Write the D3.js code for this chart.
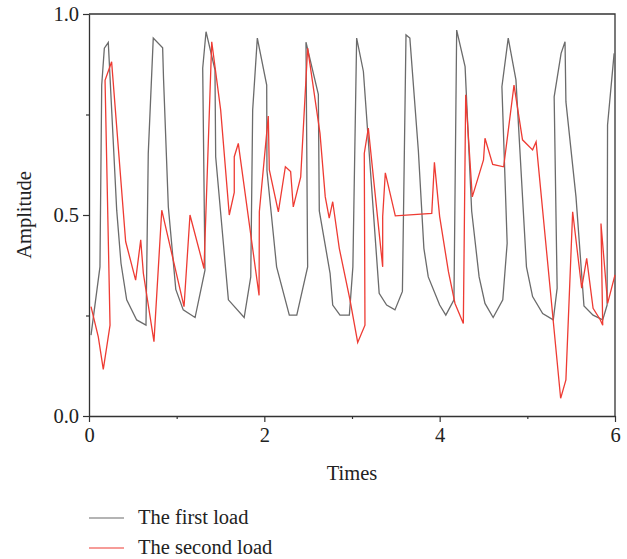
<!DOCTYPE html>
<html>
<head>
<meta charset="utf-8">
<script src="https://cdn.jsdelivr.net/npm/d3@7"></script>
<style>
  body { margin: 0; background: #fff; }
  svg text { font-family: "Liberation Serif", "DejaVu Serif", serif; fill: #222; }
</style>
</head>
<body>
<svg id="chart" width="627" height="559"></svg>
<script>
// first load (grey)
var firstTime = [0.023, 0.125, 0.145, 0.175, 0.22, 0.316, 0.365, 0.43, 0.544, 0.65, 0.676, 0.733, 0.84, 0.85, 0.905, 0.99, 1.075, 1.21, 1.323, 1.297, 1.335, 1.437, 1.445, 1.59, 1.77, 1.845, 1.867, 1.92, 2.027, 2.03, 2.14, 2.285, 2.37, 2.494, 2.475, 2.616, 2.627, 2.75, 2.78, 2.863, 2.97, 3.01, 3.053, 3.13, 3.31, 3.395, 3.49, 3.575, 3.616, 3.66, 3.757, 3.82, 3.87, 4.0, 4.07, 4.163, 4.194, 4.29, 4.365, 4.45, 4.517, 4.61, 4.72, 4.77, 4.71, 4.782, 4.87, 4.99, 5.06, 5.175, 5.296, 5.34, 5.306, 5.385, 5.43, 5.44, 5.555, 5.646, 5.75, 5.86, 5.91, 5.915, 5.99];
var firstAmp = [0.201, 0.371, 0.823, 0.915, 0.929, 0.512, 0.38, 0.289, 0.239, 0.226, 0.653, 0.94, 0.916, 0.84, 0.52, 0.315, 0.264, 0.245, 0.363, 0.865, 0.956, 0.861, 0.645, 0.289, 0.245, 0.346, 0.761, 0.94, 0.823, 0.61, 0.371, 0.251, 0.251, 0.371, 0.93, 0.80, 0.51, 0.355, 0.276, 0.251, 0.251, 0.371, 0.94, 0.857, 0.305, 0.276, 0.264, 0.31, 0.948, 0.94, 0.66, 0.417, 0.346, 0.276, 0.251, 0.289, 0.96, 0.869, 0.51, 0.346, 0.28, 0.245, 0.289, 0.43, 0.819, 0.94, 0.836, 0.371, 0.297, 0.255, 0.239, 0.318, 0.794, 0.902, 0.931, 0.782, 0.545, 0.274, 0.251, 0.239, 0.276, 0.724, 0.902];

// second load (red)
var secondTime = [0.023, 0.106, 0.163, 0.24, 0.183, 0.258, 0.418, 0.532, 0.59, 0.62, 0.741, 0.83, 1.084, 1.152, 1.312, 1.40, 1.502, 1.60, 1.657, 1.657, 1.703, 1.94, 1.943, 2.045, 2.057, 2.16, 2.24, 2.30, 2.33, 2.415, 2.494, 2.635, 2.695, 2.74, 2.78, 2.855, 2.977, 3.065, 3.148, 3.14, 3.186, 3.35, 3.35, 3.38, 3.494, 3.91, 3.94, 4.0, 4.10, 4.175, 4.27, 4.297, 4.372, 4.50, 4.517, 4.605, 4.73, 4.848, 4.945, 5.06, 5.10, 5.38, 5.44, 5.517, 5.62, 5.677, 5.75, 5.83, 5.86, 5.84, 5.916, 6.0];
var secondAmp = [0.272, 0.197, 0.116, 0.226, 0.835, 0.881, 0.434, 0.338, 0.438, 0.355, 0.185, 0.512, 0.272, 0.5, 0.367, 0.931, 0.761, 0.50, 0.556, 0.645, 0.678, 0.30, 0.508, 0.746, 0.612, 0.508, 0.62, 0.608, 0.52, 0.595, 0.915, 0.703, 0.545, 0.492, 0.533, 0.417, 0.289, 0.183, 0.226, 0.653, 0.716, 0.371, 0.496, 0.605, 0.498, 0.504, 0.631, 0.496, 0.359, 0.28, 0.23, 0.799, 0.545, 0.637, 0.691, 0.626, 0.62, 0.823, 0.687, 0.662, 0.682, 0.044, 0.09, 0.508, 0.318, 0.392, 0.268, 0.24, 0.226, 0.479, 0.28, 0.351];

var xTicks = [0, 2, 4, 6];
var xMinor = [1, 3, 5];
var yTicks = [0, 0.5, 1];
var yMinor = [0.25, 0.75];
var seriesNames = ["The first load", "The second load"];
var seriesColors = ["#6b6b6b", "#ee3b33"];

var padL = 89, padR = 615, padT = 14, padB = 416;
var fontSize = 20.5;
var svg = d3.select("#chart");

var x = d3.scaleLinear().domain([0, 6]).range([padL, padR]);
var y = d3.scaleLinear().domain([0, 1]).range([padB, padT]);

// frame (top + right)
svg.append("path")
    .attr("d", "M" + padL + "," + padT + "H" + padR + "V" + padB)
    .attr("fill", "none").attr("stroke", "#333").attr("stroke-width", 1.3);

function styleAxis(g) {
    g.select(".domain").attr("stroke", "#333").attr("stroke-width", 1.3);
    g.selectAll(".tick line").attr("stroke", "#333").attr("stroke-width", 1.2);
    g.selectAll(".tick text").attr("font-size", fontSize).attr("fill", "#222")
        .attr("font-family", "Liberation Serif, serif");
}

var xAxis = svg.append("g").attr("transform", "translate(0," + padB + ")")
    .call(d3.axisBottom(x).tickValues(xTicks).tickFormat(d3.format("d")).tickSize(6).tickPadding(5).tickSizeOuter(0));
styleAxis(xAxis);
svg.append("g").attr("transform", "translate(0," + padB + ")")
    .call(d3.axisBottom(x).tickValues(xMinor).tickFormat("").tickSize(3).tickSizeOuter(0))
    .call(function(g) { g.select(".domain").remove(); g.selectAll("line").attr("stroke", "#333").attr("stroke-width", 1.2); });

var yAxis = svg.append("g").attr("transform", "translate(" + padL + ",0)")
    .call(d3.axisLeft(y).tickValues(yTicks).tickFormat(d3.format(".1f")).tickSize(6).tickPadding(4).tickSizeOuter(0));
styleAxis(yAxis);
svg.append("g").attr("transform", "translate(" + padL + ",0)")
    .call(d3.axisLeft(y).tickValues(yMinor).tickFormat("").tickSize(3).tickSizeOuter(0))
    .call(function(g) { g.select(".domain").remove(); g.selectAll("line").attr("stroke", "#333").attr("stroke-width", 1.2); });

svg.append("text")
    .attr("x", (padL + padR) / 2).attr("y", 480)
    .attr("text-anchor", "middle").attr("font-size", fontSize)
    .text("Times");

svg.append("text")
    .attr("transform", "translate(31," + ((padT + padB) / 2) + ") rotate(-90)")
    .attr("text-anchor", "middle").attr("font-size", fontSize)
    .text("Amplitude");

var line = d3.line()
    .x(function(d) { return x(d[0]); })
    .y(function(d) { return y(d[1]); });

var series = [
    d3.zip(firstTime, firstAmp),
    d3.zip(secondTime, secondAmp)
];

series.forEach(function(s, i) {
    svg.append("path")
        .datum(s)
        .attr("fill", "none")
        .attr("stroke", seriesColors[i])
        .attr("stroke-width", 1.3)
        .attr("d", line);
});

// legend
var legend = svg.append("g");
seriesNames.forEach(function(name, i) {
    var ly = 518 + i * 30;
    legend.append("line")
        .attr("x1", 89).attr("x2", 124)
        .attr("y1", ly).attr("y2", ly)
        .attr("stroke", seriesColors[i]).attr("stroke-width", 1.2);
    legend.append("text")
        .attr("x", 138).attr("y", ly + 6)
        .attr("font-size", fontSize)
        .text(name);
});
</script>
</body>
</html>
